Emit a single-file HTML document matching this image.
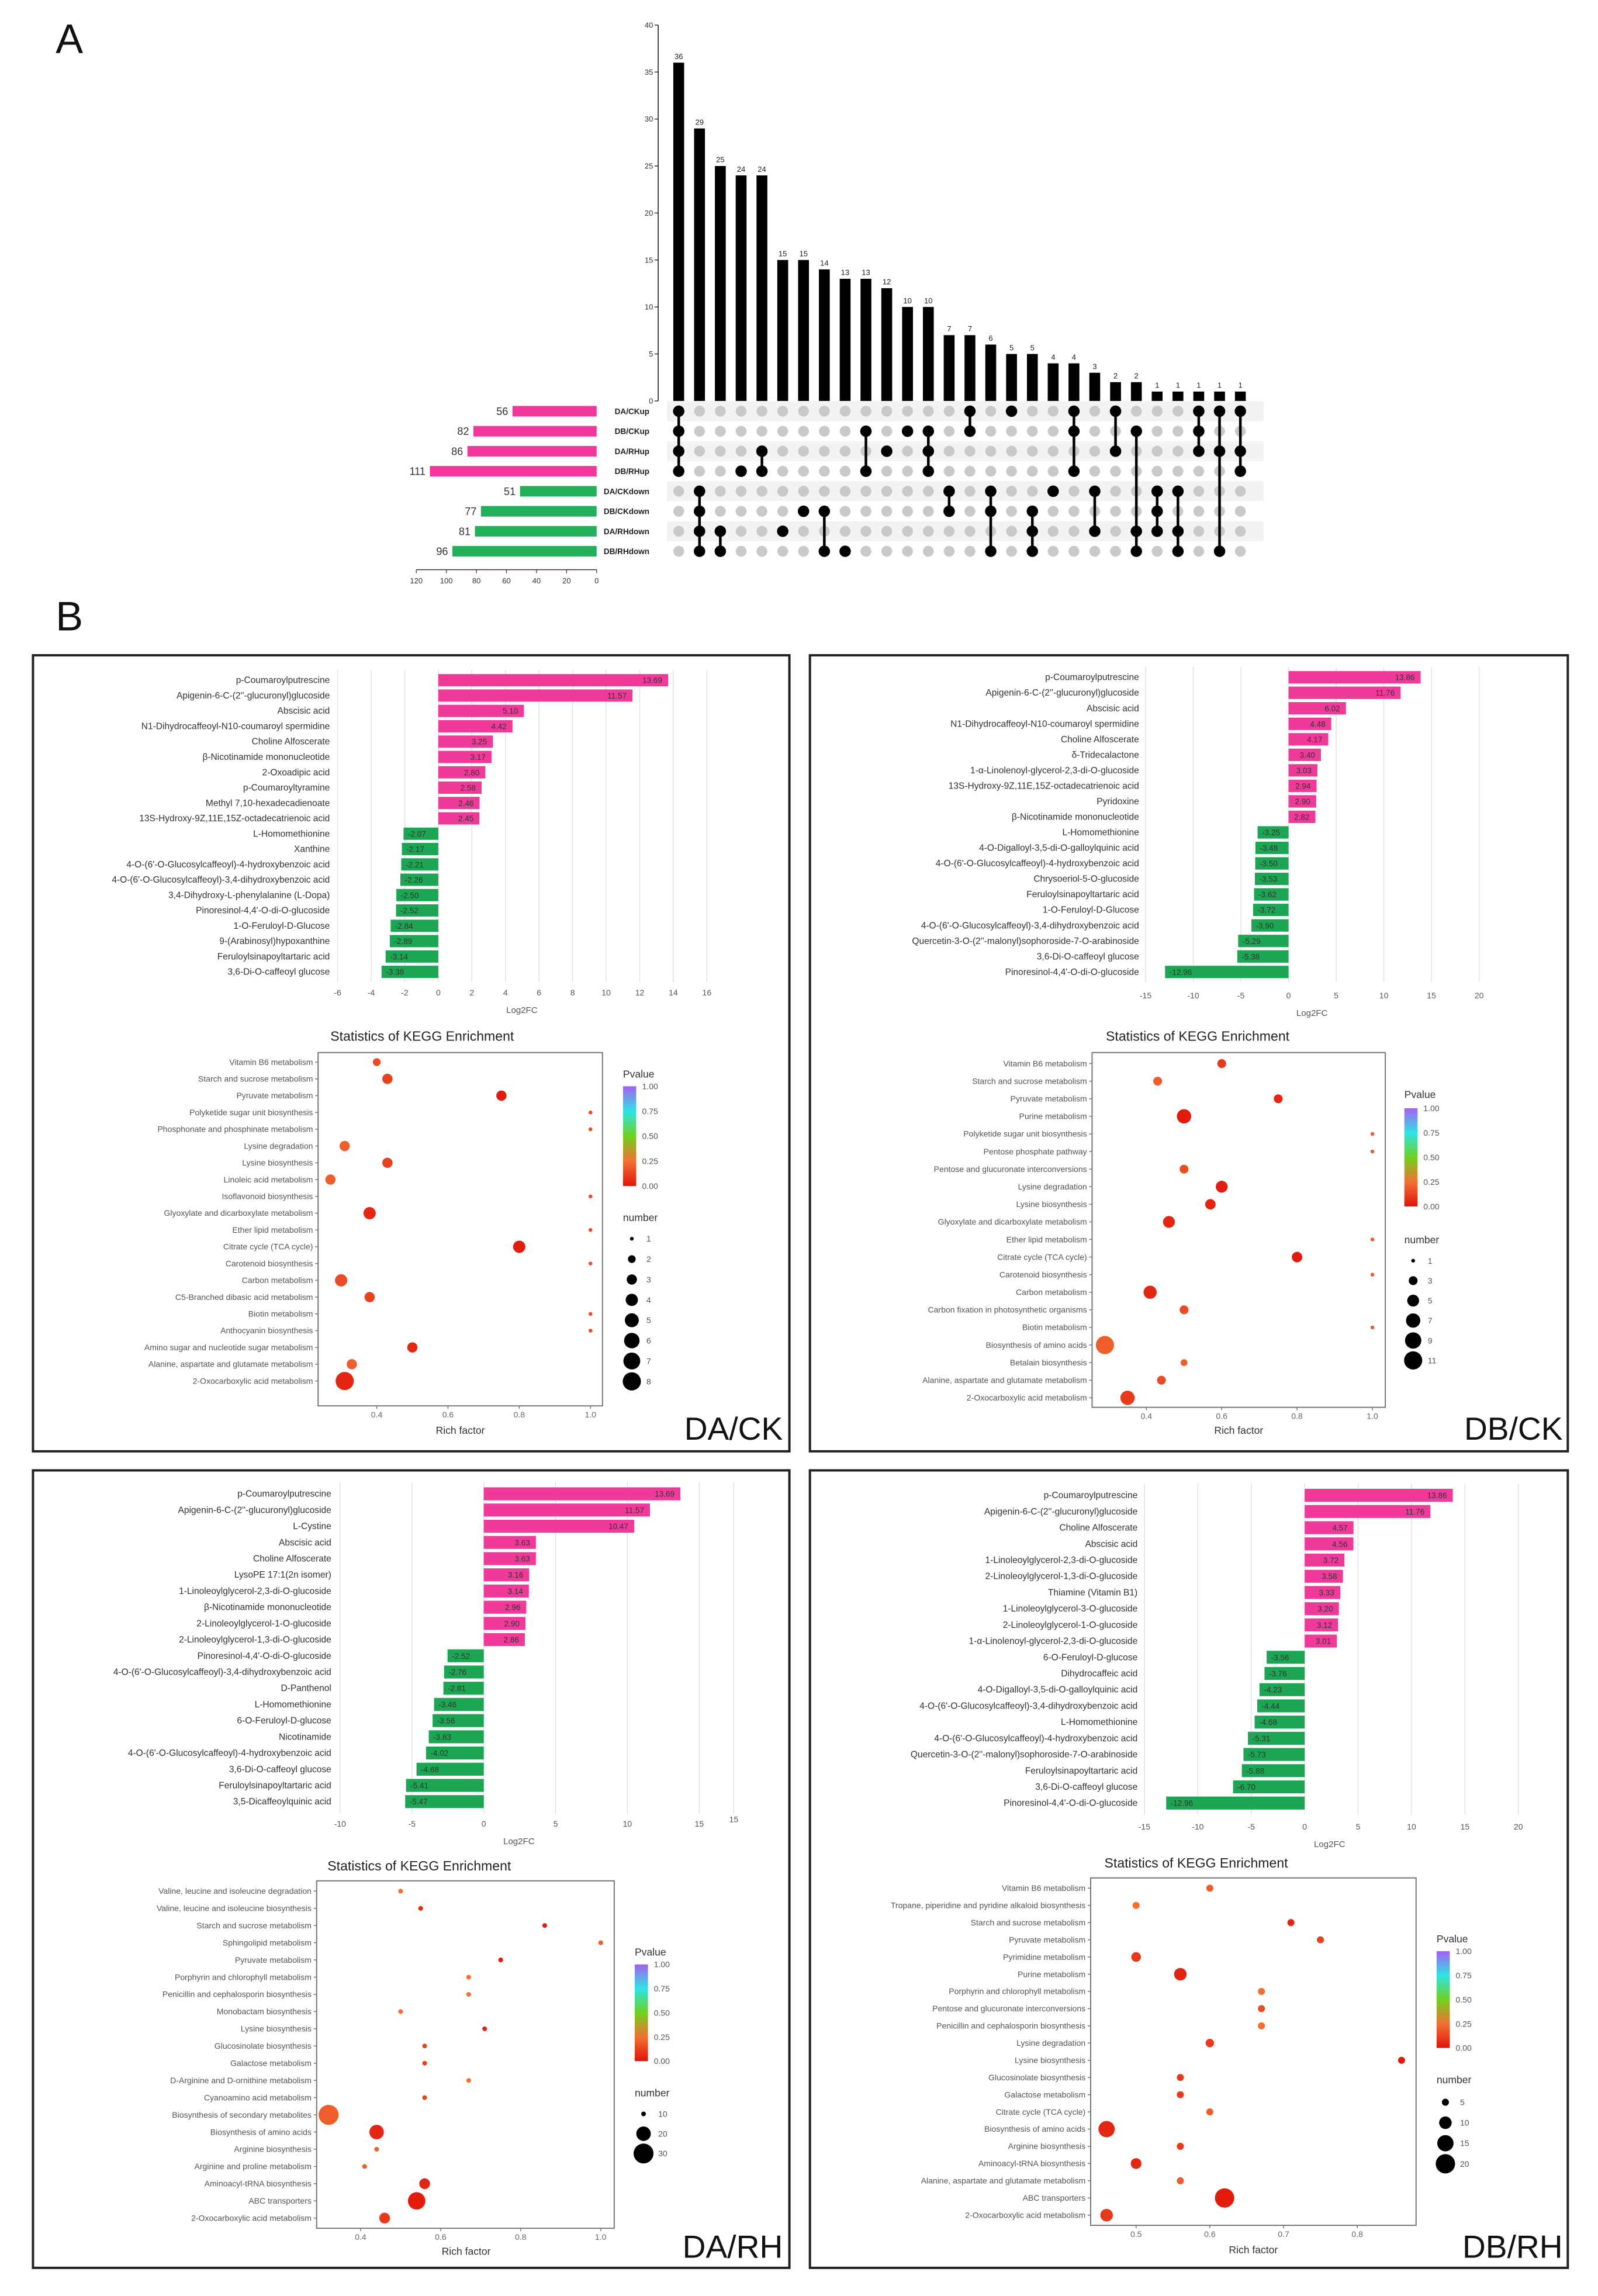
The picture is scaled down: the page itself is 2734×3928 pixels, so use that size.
<!DOCTYPE html>
<html><head><meta charset="utf-8"><title>Figure</title>
<style>
html,body{margin:0;padding:0;background:#fff;}
svg{display:block;font-family:"Liberation Sans",Arial,sans-serif;}
</style></head>
<body>
<svg id="fig" xmlns="http://www.w3.org/2000/svg" width="2734" height="3928" viewBox="0 0 1090.1 1566.2" preserveAspectRatio="none">
<rect x="0" y="0" width="1090.1" height="1566.2" fill="#fff"/>
<text x="38" y="36" font-size="28" fill="#111">A</text>
<text x="38" y="430" font-size="28" fill="#111">B</text>
<rect x="22.5" y="447" width="516" height="543" fill="none" stroke="#222" stroke-width="1.6"/>
<rect x="552.5" y="447" width="517" height="543" fill="none" stroke="#222" stroke-width="1.6"/>
<rect x="22.5" y="1003" width="516" height="544" fill="none" stroke="#222" stroke-width="1.6"/>
<rect x="552.5" y="1003" width="517" height="544" fill="none" stroke="#222" stroke-width="1.6"/>
<text x="534" y="982" font-size="22" text-anchor="end" fill="#111">DA/CK</text>
<text x="1066" y="982" font-size="22" text-anchor="end" fill="#111">DB/CK</text>
<text x="534" y="1540" font-size="22" text-anchor="end" fill="#111">DA/RH</text>
<text x="1066" y="1540" font-size="22" text-anchor="end" fill="#111">DB/RH</text>
</svg>
<script>
// ---------- UpSet data ----------
const upsetCounts = [36,29,25,24,24,15,15,14,13,13,12,10,10,7,7,6,5,5,4,4,3,2,2,1,1,1,1,1];
const upsetMembers = [[0,1,2,3],[4,5,6,7],[6,7],[3],[2,3],[6],[5],[5,7],[7],[1,3],[2],[1],[1,2,3],[4,5],[0,1],[4,5,7],[0],[5,6,7],[4],[0,1,3],[4,6],[0,2],[1,6,7],[4,5,6],[4,6,7],[0,1,2],[0,2,7],[0,2,3]];
const setNames = ["DA/CKup","DB/CKup","DA/RHup","DB/RHup","DA/CKdown","DB/CKdown","DA/RHdown","DB/RHdown"];
const setSizes = [56,82,86,111,51,77,81,96];
const upsetYTicks = [0,5,10,15,20,25,30,35,40];
const setAxisTicks = [120,100,80,60,40,20,0];

// ---------- Log2FC bar data ----------
const daCkNames = ["p-Coumaroylputrescine","Apigenin-6-C-(2''-glucuronyl)glucoside","Abscisic acid","N1-Dihydrocaffeoyl-N10-coumaroyl spermidine","Choline Alfoscerate","β-Nicotinamide mononucleotide","2-Oxoadipic acid","p-Coumaroyltyramine","Methyl 7,10-hexadecadienoate","13S-Hydroxy-9Z,11E,15Z-octadecatrienoic acid","L-Homomethionine","Xanthine","4-O-(6'-O-Glucosylcaffeoyl)-4-hydroxybenzoic acid","4-O-(6'-O-Glucosylcaffeoyl)-3,4-dihydroxybenzoic acid","3,4-Dihydroxy-L-phenylalanine (L-Dopa)","Pinoresinol-4,4'-O-di-O-glucoside","1-O-Feruloyl-D-Glucose","9-(Arabinosyl)hypoxanthine","Feruloylsinapoyltartaric acid","3,6-Di-O-caffeoyl glucose"];
const daCkValues = [13.69,11.57,5.10,4.42,3.25,3.17,2.80,2.58,2.46,2.45,-2.07,-2.17,-2.21,-2.26,-2.50,-2.52,-2.84,-2.89,-3.14,-3.38];
const daCkTicks = [-6,-4,-2,0,2,4,6,8,10,12,14,16];

const dbCkNames = ["p-Coumaroylputrescine","Apigenin-6-C-(2''-glucuronyl)glucoside","Abscisic acid","N1-Dihydrocaffeoyl-N10-coumaroyl spermidine","Choline Alfoscerate","δ-Tridecalactone","1-α-Linolenoyl-glycerol-2,3-di-O-glucoside","13S-Hydroxy-9Z,11E,15Z-octadecatrienoic acid","Pyridoxine","β-Nicotinamide mononucleotide","L-Homomethionine","4-O-Digalloyl-3,5-di-O-galloylquinic acid","4-O-(6'-O-Glucosylcaffeoyl)-4-hydroxybenzoic acid","Chrysoeriol-5-O-glucoside","Feruloylsinapoyltartaric acid","1-O-Feruloyl-D-Glucose","4-O-(6'-O-Glucosylcaffeoyl)-3,4-dihydroxybenzoic acid","Quercetin-3-O-(2''-malonyl)sophoroside-7-O-arabinoside","3,6-Di-O-caffeoyl glucose","Pinoresinol-4,4'-O-di-O-glucoside"];
const dbCkValues = [13.86,11.76,6.02,4.48,4.17,3.40,3.03,2.94,2.90,2.82,-3.25,-3.48,-3.50,-3.53,-3.62,-3.72,-3.90,-5.29,-5.38,-12.96];
const dbCkTicks = [-15,-10,-5,0,5,10,15,20];

const daRhNames = ["p-Coumaroylputrescine","Apigenin-6-C-(2''-glucuronyl)glucoside","L-Cystine","Abscisic acid","Choline Alfoscerate","LysoPE 17:1(2n isomer)","1-Linoleoylglycerol-2,3-di-O-glucoside","β-Nicotinamide mononucleotide","2-Linoleoylglycerol-1-O-glucoside","2-Linoleoylglycerol-1,3-di-O-glucoside","Pinoresinol-4,4'-O-di-O-glucoside","4-O-(6'-O-Glucosylcaffeoyl)-3,4-dihydroxybenzoic acid","D-Panthenol","L-Homomethionine","6-O-Feruloyl-D-glucose","Nicotinamide","4-O-(6'-O-Glucosylcaffeoyl)-4-hydroxybenzoic acid","3,6-Di-O-caffeoyl glucose","Feruloylsinapoyltartaric acid","3,5-Dicaffeoylquinic acid"];
const daRhValues = [13.69,11.57,10.47,3.63,3.63,3.16,3.14,2.96,2.90,2.86,-2.52,-2.76,-2.81,-3.46,-3.56,-3.83,-4.02,-4.68,-5.41,-5.47];
const daRhTicks = [-10,-5,0,5,10,15];

const dbRhNames = ["p-Coumaroylputrescine","Apigenin-6-C-(2''-glucuronyl)glucoside","Choline Alfoscerate","Abscisic acid","1-Linoleoylglycerol-2,3-di-O-glucoside","2-Linoleoylglycerol-1,3-di-O-glucoside","Thiamine (Vitamin B1)","1-Linoleoylglycerol-3-O-glucoside","2-Linoleoylglycerol-1-O-glucoside","1-α-Linolenoyl-glycerol-2,3-di-O-glucoside","6-O-Feruloyl-D-glucose","Dihydrocaffeic acid","4-O-Digalloyl-3,5-di-O-galloylquinic acid","4-O-(6'-O-Glucosylcaffeoyl)-3,4-dihydroxybenzoic acid","L-Homomethionine","4-O-(6'-O-Glucosylcaffeoyl)-4-hydroxybenzoic acid","Quercetin-3-O-(2''-malonyl)sophoroside-7-O-arabinoside","Feruloylsinapoyltartaric acid","3,6-Di-O-caffeoyl glucose","Pinoresinol-4,4'-O-di-O-glucoside"];
const dbRhValues = [13.86,11.76,4.57,4.56,3.72,3.58,3.33,3.20,3.12,3.01,-3.56,-3.76,-4.23,-4.44,-4.68,-5.31,-5.73,-5.88,-6.70,-12.96];
const dbRhTicks = [-15,-10,-5,0,5,10,15,20];

// ---------- KEGG data ----------
const daCkPaths = ["Vitamin B6 metabolism","Starch and sucrose metabolism","Pyruvate metabolism","Polyketide sugar unit biosynthesis","Phosphonate and phosphinate metabolism","Lysine degradation","Lysine biosynthesis","Linoleic acid metabolism","Isoflavonoid biosynthesis","Glyoxylate and dicarboxylate metabolism","Ether lipid metabolism","Citrate cycle (TCA cycle)","Carotenoid biosynthesis","Carbon metabolism","C5-Branched dibasic acid metabolism","Biotin metabolism","Anthocyanin biosynthesis","Amino sugar and nucleotide sugar metabolism","Alanine, aspartate and glutamate metabolism","2-Oxocarboxylic acid metabolism"];
const daCkRich = [0.40,0.43,0.75,1.0,1.0,0.31,0.43,0.27,1.0,0.38,1.0,0.80,1.0,0.30,0.38,1.0,1.0,0.50,0.33,0.31];
const daCkNum = [2,3,3,1,1,3,3,3,1,4,1,4,1,4,3,1,1,3,3,8];
const daCkP = [0.15,0.12,0.02,0.15,0.15,0.2,0.12,0.2,0.15,0.05,0.15,0.02,0.15,0.15,0.12,0.15,0.15,0.05,0.2,0.05];
const daCkSizeLegend = [1,2,3,4,5,6,7,8];

const dbCkPaths = ["Vitamin B6 metabolism","Starch and sucrose metabolism","Pyruvate metabolism","Purine metabolism","Polyketide sugar unit biosynthesis","Pentose phosphate pathway","Pentose and glucuronate interconversions","Lysine degradation","Lysine biosynthesis","Glyoxylate and dicarboxylate metabolism","Ether lipid metabolism","Citrate cycle (TCA cycle)","Carotenoid biosynthesis","Carbon metabolism","Carbon fixation in photosynthetic organisms","Biotin metabolism","Biosynthesis of amino acids","Betalain biosynthesis","Alanine, aspartate and glutamate metabolism","2-Oxocarboxylic acid metabolism"];
const dbCkRich = [0.60,0.43,0.75,0.50,1.0,1.0,0.50,0.60,0.57,0.46,1.0,0.80,1.0,0.41,0.50,1.0,0.29,0.50,0.44,0.35];
const dbCkNum = [3,3,3,7,1,1,3,5,4,5,1,4,1,6,3,1,11,2,3,7];
const dbCkP = [0.1,0.2,0.05,0.02,0.2,0.2,0.15,0.03,0.05,0.05,0.2,0.02,0.2,0.05,0.15,0.2,0.2,0.2,0.15,0.1];
const dbCkSizeLegend = [1,3,5,7,9,11];

const daRhPaths = ["Valine, leucine and isoleucine degradation","Valine, leucine and isoleucine biosynthesis","Starch and sucrose metabolism","Sphingolipid metabolism","Pyruvate metabolism","Porphyrin and chlorophyll metabolism","Penicillin and cephalosporin biosynthesis","Monobactam biosynthesis","Lysine biosynthesis","Glucosinolate biosynthesis","Galactose metabolism","D-Arginine and D-ornithine metabolism","Cyanoamino acid metabolism","Biosynthesis of secondary metabolites","Biosynthesis of amino acids","Arginine biosynthesis","Arginine and proline metabolism","Aminoacyl-tRNA biosynthesis","ABC transporters","2-Oxocarboxylic acid metabolism"];
const daRhRich = [0.50,0.55,0.86,1.0,0.75,0.67,0.67,0.50,0.71,0.56,0.56,0.67,0.56,0.32,0.44,0.44,0.41,0.56,0.54,0.46];
const daRhNum = [5,7,8,3,5,2,2,5,8,7,7,2,7,30,20,6,8,15,25,15];
const daRhP = [0.25,0.05,0.02,0.2,0.02,0.25,0.25,0.25,0.04,0.12,0.12,0.25,0.12,0.2,0.05,0.2,0.2,0.05,0.02,0.1];
const daRhSizeLegend = [10,20,30];

const dbRhPaths = ["Vitamin B6 metabolism","Tropane, piperidine and pyridine alkaloid biosynthesis","Starch and sucrose metabolism","Pyruvate metabolism","Pyrimidine metabolism","Purine metabolism","Porphyrin and chlorophyll metabolism","Pentose and glucuronate interconversions","Penicillin and cephalosporin biosynthesis","Lysine degradation","Lysine biosynthesis","Glucosinolate biosynthesis","Galactose metabolism","Citrate cycle (TCA cycle)","Biosynthesis of amino acids","Arginine biosynthesis","Aminoacyl-tRNA biosynthesis","Alanine, aspartate and glutamate metabolism","ABC transporters","2-Oxocarboxylic acid metabolism"];
const dbRhRich = [0.60,0.50,0.71,0.75,0.50,0.56,0.67,0.67,0.67,0.60,0.86,0.56,0.56,0.60,0.46,0.56,0.50,0.56,0.62,0.46];
const dbRhNum = [3,4,5,3,7,10,1,4,1,6,5,5,5,3,15,5,8,5,20,10];
const dbRhP = [0.2,0.25,0.05,0.12,0.1,0.04,0.25,0.15,0.25,0.1,0.02,0.1,0.1,0.2,0.05,0.1,0.05,0.2,0.02,0.1];
const dbRhSizeLegend = [5,10,15,20];

// ---------- helpers ----------
const NS = "http://www.w3.org/2000/svg";
const svg = document.getElementById("fig");
function mk(tag, attrs, parent, text) {
  const e = document.createElementNS(NS, tag);
  for (const k in attrs) e.setAttribute(k, attrs[k]);
  if (text !== undefined) e.textContent = text;
  (parent || svg).appendChild(e);
  return e;
}
function grp(name) {
  const g = mk("g", {});
  
  
  return g;
}

// ---------- UpSet plot ----------
(function () {
  const g = grp("upset-plot");
  const axisX = 449, y0 = 273.5, pxPer = 6.41;
  const colX0 = 463, colDx = 14.19;
  const rowY0 = 280.5, rowDy = 13.65;
  const yOf = v => y0 - v * pxPer;
  const colX = i => colX0 + i * colDx;
  const rowY = r => rowY0 + r * rowDy;
  // stripes
  setNames.forEach((n, r) => {
    if (r % 2 === 0) {
      const s = mk("rect", { x: 455, y: rowY(r) - 6.8, width: 407, height: 13.6, fill: "#f3f3f3" }, g);
      
      
    }
  });
  // y axis
  const ax = mk("line", { x1: axisX, y1: yOf(0), x2: axisX, y2: yOf(40), stroke: "#333", "stroke-width": 0.7 }, g);
  
  
  upsetYTicks.forEach(t => {
    mk("line", { x1: axisX - 2.5, y1: yOf(t), x2: axisX, y2: yOf(t), stroke: "#333", "stroke-width": 0.6 }, g);
    const tl = mk("text", { x: axisX - 3.5, y: yOf(t) + 1.8, "font-size": 5.2, "text-anchor": "end", fill: "#333" }, g, String(t));
    
    
  });
  // bars
  upsetCounts.forEach((c, i) => {
    const b = mk("rect", { x: colX(i) - 3.7, y: yOf(c), width: 7.4, height: y0 - yOf(c), fill: "#000" }, g);
    
    
    const l = mk("text", { x: colX(i), y: yOf(c) - 2.5, "font-size": 5.2, "text-anchor": "middle", fill: "#222" }, g, String(c));
    
    
  });
  // matrix dots
  upsetMembers.forEach((m, i) => {
    for (let r = 0; r < setNames.length; r++) {
      if (m.indexOf(r) < 0) {
        const d = mk("circle", { cx: colX(i), cy: rowY(r), r: 3.7, fill: "#c9c9c9" }, g);
        
        
      }
    }
    const mn = Math.min(...m), mx = Math.max(...m);
    if (mx > mn) {
      const ln = mk("line", { x1: colX(i), y1: rowY(mn), x2: colX(i), y2: rowY(mx), stroke: "#000", "stroke-width": 1.8 }, g);
      
      
    }
    m.forEach(r => {
      const d = mk("circle", { cx: colX(i), cy: rowY(r), r: 3.9, fill: "#000" }, g);
      
      
    });
  });
  // set size bars
  const setRight = 407, setPer = 1.025;
  setNames.forEach((n, r) => {
    const w = setSizes[r] * setPer;
    const b = mk("rect", { x: setRight - w, y: rowY(r) - 3.6, width: w, height: 7.2, fill: r < 4 ? "#f2379c" : "#22b05a" }, g);
    
    
    const c = mk("text", { x: setRight - w - 3, y: rowY(r) + 2.6, "font-size": 7.2, "text-anchor": "end", fill: "#333" }, g, String(setSizes[r]));
    
    
    const nl = mk("text", { x: 443, y: rowY(r) + 2, "font-size": 5.4, "font-weight": "bold", "text-anchor": "end", fill: "#222" }, g, n);
    
    
  });
  const sa = mk("line", { x1: setRight - 120 * setPer, y1: 388.6, x2: setRight, y2: 388.6, stroke: "#333", "stroke-width": 0.6 }, g);
  
  
  setAxisTicks.forEach(t => {
    const x = setRight - t * setPer;
    mk("line", { x1: x, y1: 388.6, x2: x, y2: 391, stroke: "#333", "stroke-width": 0.5 }, g);
    const tl = mk("text", { x: x, y: 398, "font-size": 5.2, "text-anchor": "middle", fill: "#333" }, g, String(t));
    
    
  });
})();

// ---------- Log2FC bar charts ----------
function drawBars(name, cfg, names, values, ticks) {
  const g = grp(name);
  const xOf = v => cfg.zeroX + v * cfg.unit;
  const gridTicks = ticks.concat(cfg.extraTick !== undefined ? [cfg.extraTick] : []);
  gridTicks.forEach(t => {
    const gl = mk("line", { x1: xOf(t), y1: cfg.gridTop, x2: xOf(t), y2: cfg.gridBot, stroke: "#e2e2e2", "stroke-width": 0.6 }, g);
    
    
  });
  ticks.forEach(t => {
    const tl = mk("text", { x: xOf(t), y: cfg.tickY, "font-size": 5.6, "text-anchor": "middle", fill: "#555" }, g, String(t));
    
    
  });
  if (cfg.extraTick !== undefined) {
    const et = mk("text", { x: xOf(cfg.extraTick), y: cfg.tickY - 3, "font-size": 5.6, "text-anchor": "middle", fill: "#555" }, g, String(cfg.extraLabel));
    
    
  }
  const xt = mk("text", { x: cfg.titleX, y: cfg.titleY, "font-size": 6, "text-anchor": "middle", fill: "#555" }, g, "Log2FC");
  
  
  const bh = cfg.dy * 0.8;
  values.forEach((v, i) => {
    const y = cfg.y0 + i * cfg.dy;
    const x1 = Math.min(xOf(0), xOf(v)), w = Math.abs(xOf(v) - xOf(0));
    const b = mk("rect", { x: x1, y: y - bh / 2, width: w, height: bh, fill: v >= 0 ? "#ef3a9a" : "#1ca653" }, g);
    
    
    const lbl = mk("text", { x: v >= 0 ? xOf(v) - 4 : xOf(v) + 3, y: y + 2, "font-size": 5.4, "text-anchor": v >= 0 ? "end" : "start", fill: "#333" }, g, v.toFixed(2));
    
    
    const nl = mk("text", { x: cfg.labelX, y: y + 2, "font-size": 6.2, "text-anchor": "end", fill: "#333" }, g, names[i]);
    
    
  });
}
drawBars("log2fc-chart-da-ck", { zeroX: 299, unit: 11.45, y0: 464, dy: 10.47, labelX: 225, tickY: 679, titleX: 356, titleY: 691, gridTop: 457, gridBot: 670 }, daCkNames, daCkValues, daCkTicks);
drawBars("log2fc-chart-db-ck", { zeroX: 879, unit: 6.5, y0: 462, dy: 10.58, labelX: 777, tickY: 681, titleX: 895, titleY: 693, gridTop: 455, gridBot: 670 }, dbCkNames, dbCkValues, dbCkTicks);
drawBars("log2fc-chart-da-rh", { zeroX: 330, unit: 9.8, y0: 1019, dy: 11.05, labelX: 226, tickY: 1246, titleX: 354, titleY: 1258, gridTop: 1011, gridBot: 1237, extraTick: 17.4, extraLabel: 15 }, daRhNames, daRhValues, daRhTicks);
drawBars("log2fc-chart-db-rh", { zeroX: 890, unit: 7.29, y0: 1020, dy: 11.05, labelX: 776, tickY: 1248, titleX: 907, titleY: 1260, gridTop: 1012, gridBot: 1238 }, dbRhNames, dbRhValues, dbRhTicks);

// ---------- KEGG bubble charts ----------
const pStops = [[0, [224, 20, 10]], [0.25, [243, 112, 50]], [0.5, [110, 210, 30]], [0.75, [45, 228, 230]], [1, [165, 95, 240]]];
function pColor(p) {
  for (let i = 0; i < pStops.length - 1; i++) {
    const a = pStops[i], b = pStops[i + 1];
    if (p <= b[0]) {
      const t = (p - a[0]) / (b[0] - a[0]);
      const c = a[1].map((v, k) => Math.round(v + (b[1][k] - v) * t));
      return "rgb(" + c.join(",") + ")";
    }
  }
  return "rgb(165,95,240)";
}
let gradId = 0;
function drawKegg(name, cfg, paths, rich, num, pval, sizeLegend) {
  const g = grp(name);
  const xOf = r => cfg.xRef + (r - cfg.ref) * cfg.unit;
  const nMin = Math.min(...sizeLegend), nMax = Math.max(...sizeLegend);
  const rOf = n => Math.sqrt(cfg.rmin * cfg.rmin + (cfg.rmax * cfg.rmax - cfg.rmin * cfg.rmin) * Math.max(0, (n - nMin)) / (nMax - nMin));
  const t = mk("text", { x: cfg.titleX, y: cfg.titleY, "font-size": 9.2, "text-anchor": "middle", fill: "#222" }, g, "Statistics of KEGG Enrichment");
  
  
  const box = mk("rect", { x: cfg.box[0], y: cfg.box[1], width: cfg.box[2] - cfg.box[0], height: cfg.box[3] - cfg.box[1], fill: "#fff", stroke: "#777", "stroke-width": 0.8 }, g);
  
  
  cfg.ticks.forEach(tk => {
    mk("line", { x1: xOf(tk), y1: cfg.box[3], x2: xOf(tk), y2: cfg.box[3] + 2, stroke: "#777", "stroke-width": 0.6 }, g);
    const tl = mk("text", { x: xOf(tk), y: cfg.box[3] + 8, "font-size": 5.6, "text-anchor": "middle", fill: "#666" }, g, tk.toFixed(1));
    
    
  });
  const xl = mk("text", { x: cfg.richX, y: cfg.richY, "font-size": 7, "text-anchor": "middle", fill: "#333" }, g, "Rich factor");
  
  
  paths.forEach((p, i) => {
    const y = cfg.y0 + i * cfg.dy;
    mk("line", { x1: cfg.box[0] - 2, y1: y, x2: cfg.box[0], y2: y, stroke: "#777", "stroke-width": 0.6 }, g);
    const pl = mk("text", { x: cfg.box[0] - 3.5, y: y + 1.9, "font-size": 5.6, "text-anchor": "end", fill: "#555" }, g, p);
    
    
  });
  rich.forEach((r, i) => {
    const y = cfg.y0 + i * cfg.dy;
    const c = mk("circle", { cx: xOf(r), cy: y, r: rOf(num[i]), fill: pColor(pval[i]) }, g);
    
    
  });
  // p legend
  const id = "pgrad" + (gradId++);
  const defs = mk("defs", {}, g);
  const lg = mk("linearGradient", { id: id, x1: 0, y1: 1, x2: 0, y2: 0 }, defs);
  pStops.forEach(s => mk("stop", { offset: s[0], "stop-color": pColor(s[0]) }, lg));
  const pt = mk("text", { x: cfg.legX, y: cfg.pTitleY, "font-size": 7, fill: "#333" }, g, "Pvalue");
  
  
  const bar = mk("rect", { x: cfg.legX, y: cfg.barTop, width: 9, height: cfg.barBot - cfg.barTop, fill: "url(#" + id + ")" }, g);
  
  
  ["1.00", "0.75", "0.50", "0.25", "0.00"].forEach((s, k) => {
    const yy = cfg.barTop + k * (cfg.barBot - cfg.barTop) / 4;
    const l = mk("text", { x: cfg.legX + 13, y: yy + 2, "font-size": 5.6, fill: "#555" }, g, s);
    
    
  });
  const nt = mk("text", { x: cfg.legX, y: cfg.numTitleY, "font-size": 7, fill: "#333" }, g, "number");
  
  
  sizeLegend.forEach((n, k) => {
    const yy = cfg.numY0 + k * cfg.numDy;
    const d = mk("circle", { cx: cfg.legX + 6, cy: yy, r: rOf(n), fill: "#000" }, g);
    
    
    const l = mk("text", { x: cfg.legX + 16, y: yy + 2, "font-size": 5.6, fill: "#555" }, g, String(n));
    
    
  });
}
drawKegg("kegg-chart-da-ck", { box: [217, 718, 411, 959], ref: 0.4, xRef: 257, unit: 243, ticks: [0.4, 0.6, 0.8, 1.0], y0: 724.5, dy: 11.45, titleX: 288, titleY: 710, richX: 314, richY: 978, legX: 425, pTitleY: 735, barTop: 741, barBot: 809, numTitleY: 833, numY0: 845, numDy: 13.9, rmin: 1.3, rmax: 6.2 }, daCkPaths, daCkRich, daCkNum, daCkP, daCkSizeLegend);
drawKegg("kegg-chart-db-ck", { box: [745, 718, 945, 960], ref: 0.4, xRef: 782, unit: 257, ticks: [0.4, 0.6, 0.8, 1.0], y0: 725.5, dy: 12.0, titleX: 817, titleY: 710, richX: 845, richY: 978, legX: 958, pTitleY: 749, barTop: 756, barBot: 823, numTitleY: 848, numY0: 860, numDy: 13.6, rmin: 1.3, rmax: 6.2 }, dbCkPaths, dbCkRich, dbCkNum, dbCkP, dbCkSizeLegend);
drawKegg("kegg-chart-da-rh", { box: [216, 1283, 419, 1520], ref: 0.4, xRef: 246, unit: 273, ticks: [0.4, 0.6, 0.8, 1.0], y0: 1290, dy: 11.74, titleX: 286, titleY: 1276, richX: 318, richY: 1538, legX: 433, pTitleY: 1334, barTop: 1340, barBot: 1406, numTitleY: 1430, numY0: 1442, numDy: 13.5, rmin: 1.6, rmax: 6.8 }, daRhPaths, daRhRich, daRhNum, daRhP, daRhSizeLegend);
drawKegg("kegg-chart-db-rh", { box: [744, 1281, 966, 1518], ref: 0.5, xRef: 775, unit: 503, ticks: [0.5, 0.6, 0.7, 0.8], y0: 1288, dy: 11.74, titleX: 816, titleY: 1274, richX: 855, richY: 1537, legX: 980, pTitleY: 1325, barTop: 1331, barBot: 1397, numTitleY: 1421, numY0: 1434, numDy: 14, rmin: 2.4, rmax: 6.6 }, dbRhPaths, dbRhRich, dbRhNum, dbRhP, dbRhSizeLegend);
</script>
</body></html>
